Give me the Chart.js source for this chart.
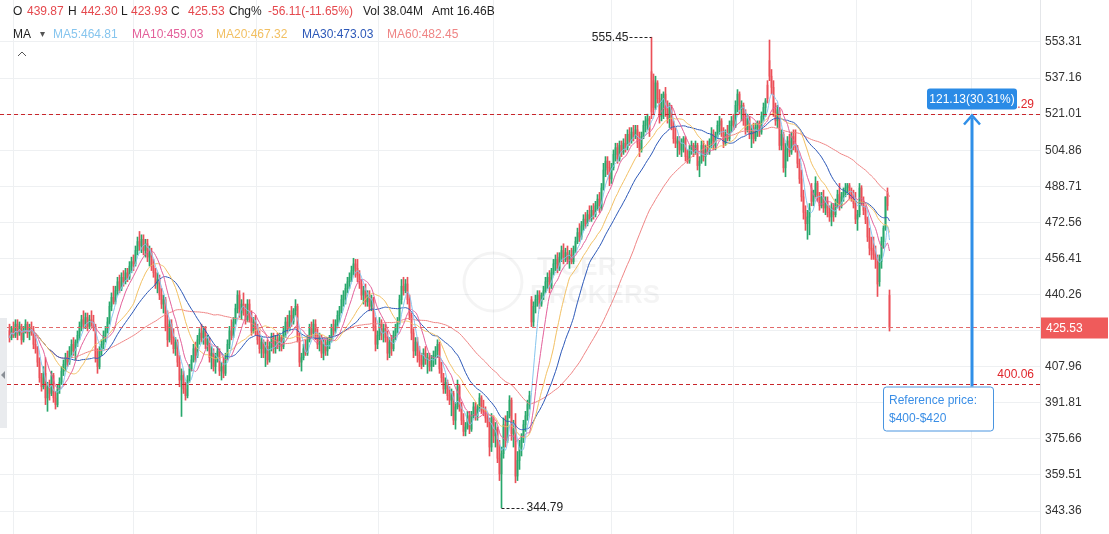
<!DOCTYPE html>
<html>
<head>
<meta charset="utf-8">
<title>Price chart</title>
<script src="https://cdn.jsdelivr.net/npm/chart.js@4.4.0/dist/chart.umd.min.js"></script>
<style>
  html, body { margin: 0; padding: 0; background: #fff; overflow: hidden; }
  #wrap { position: relative; width: 1109px; height: 534px; font-family: 'Liberation Sans', Arial, sans-serif; }
  #chart { position: absolute; left: 0; top: 0; }
  .t { position: absolute; font-size: 12px; line-height: 14px; white-space: nowrap; color: #1f1f1f; }
  .r1 { top: 4px; }
  .r2 { top: 27px; }
  .dn { color: #e5484d; }
</style>
</head>
<body>
<div id="wrap">
  <canvas id="chart" width="1109" height="534"></canvas>

  <span class="t r1" style="left:13px">O</span>
  <span class="t r1 dn" style="left:27px">439.87</span>
  <span class="t r1" style="left:68px">H</span>
  <span class="t r1 dn" style="left:81px">442.30</span>
  <span class="t r1" style="left:121px">L</span>
  <span class="t r1 dn" style="left:131px">423.93</span>
  <span class="t r1" style="left:171px">C</span>
  <span class="t r1 dn" style="left:188px">425.53</span>
  <span class="t r1" style="left:229px">Chg%</span>
  <span class="t r1 dn" style="left:268px">-56.11(-11.65%)</span>
  <span class="t r1" style="left:363px">Vol 38.04M</span>
  <span class="t r1" style="left:432px">Amt 16.46B</span>

  <span class="t r2" style="left:13px">MA</span>
  <span class="t r2" style="left:40px;font-size:10px;color:#555">&#9662;</span>
  <span class="t r2" style="left:53px;color:#86c5ee">MA5:464.81</span>
  <span class="t r2" style="left:132px;color:#e3609a">MA10:459.03</span>
  <span class="t r2" style="left:216px;color:#f2c063">MA20:467.32</span>
  <span class="t r2" style="left:302px;color:#2c58b8">MA30:473.03</span>
  <span class="t r2" style="left:387px;color:#ef8585">MA60:482.45</span>
</div>

<script>
// price axis labels
const yTicks = [553.31, 537.16, 521.01, 504.86, 488.71, 472.56, 456.41, 440.26, 424.11, 407.96, 391.81, 375.66, 359.51, 343.36];

// candle values, oldest first
const opens = [
  424,421,425,422,427,423,426,420,424,427, 423,425,424,418,416,410,403,399,405,394,
  399,396,404,394,391,398,401,406,409,412, 410,415,418,415,419,422,426,429,427,430,
  426,429,428,426,412,408,415,418,422,424, 428,435,439,437,442,446,443,448,446,450,
  448,453,455,454,460,464,462,465,460,463, 457,459,453,450,445,447,440,436,438,426,
  420,427,421,416,419,410,402,404,398,395, 402,407,411,416,413,420,423,421,424,418,
  420,412,414,408,412,415,406,408,405,412, 418,424,422,428,434,440,432,436,433,429,
  436,430,424,428,425,420,416,419,414,417, 411,417,421,416,420,418,421,417,424,428,
  425,431,428,433,435,421,410,412,416,414, 420,425,423,427,422,418,421,414,418,415,
  419,420,425,424,427,431,433,438,440,443, 446,448,451,454,452,449,445,440,442,437,
  440,435,438,426,418,422,427,423,425,421, 414,419,416,422,425,428,438,444,442,445,
  438,431,423,415,419,413,411,409,414,411, 412,408,411,413,415,418,407,403,398,401,
  395,393,396,384,390,399,390,384,379,381, 386,380,386,390,386,389,394,389,388,385,
  383,372,385,377,380,367,360,369,382,375, 386,393,378,380,359,366,372,376,382,386,
  391,438,428,435,438,440,436,440,442,446, 448,444,450,454,456,452,457,460,456,459,
  456,458,455,460,464,468,466,471,474,472, 476,474,478,476,480,483,479,488,496,500,
  497,492,497,503,506,501,507,504,508,506, 512,509,513,511,514,508,505,511,516,518,
  519,540,536,524,535,528,520,527,530,523, 519,524,516,510,508,509,505,508,510,502,
  500,505,507,504,507,498,500,507,502,505, 504,509,512,507,511,516,518,513,508,512,
  510,516,518,516,525,530,523,525,518,514, 519,512,514,510,515,517,513,520,524,534,
  545,538,533,522,518,523,507,512,497,505, 509,504,511,507,506,499,492,484,477,472,
  475,488,482,485,490,484,480,484,479,482, 477,475,479,476,481,485,480,484,486,488,
  489,485,484,481,474,476,488,482,478,474, 466,461,460,458,456,446,455,464,470,486,
  439.87
];
const highs = [
  427,426,428,429,429,428,427,426,429,428, 427,428,426,422,417,412,405,408,412,401,
  402,406,405,397,400,403,408,411,414,415, 417,420,421,420,424,428,431,433,432,432,
  431,433,431,427,416,417,420,424,426,430, 437,441,444,444,448,449,450,451,452,452,
  455,457,458,462,466,468.5,467,467,465,465, 462,461,456,452,450,449,443,440,439,433,
  429,429,425,421,420,413,407,406,401,404, 409,413,418,419,422,425,427,426,426,422,
  421,417,416,414,417,416,410,412,414,420, 426,429,430,436,442,442,438,441,436,438,
  438,433,430,431,427,424,421,420,419,420, 419,423,423,422,423,423,422,426,430,431,
  433,435,434,438,436,423,414,418,420,422, 427,428,429,429,425,423,422,420,420,421,
  422,427,429,429,433,435,440,442,445,448, 450,453,456.5,456,456,451,447,444,445,442,
  442,440,439,430,424,430,429,427,427,424, 421,422,424,427,430,440,447,448,447,448,
  440,432,425,421,421,417,414,416,417,414, 414,413,415,417,420,419,410,405,403,402,
  399,398,397,392,402,400,392,387,383,388, 388,388,392,392,391,396,395,393,390,387,
  385,387,386,383,381,375,372,385,386,388, 395,394,384,387,370,375,378,384,388,393,
  397,439.4,437,440,442,442,441,444,448,450, 451,452,456,458,459,459,462,463,461,462,
  460,461,462,466,470,472,473,476,477,478, 480,480,481,482,485,486,490,499,502,502,
  500,499,505,508,508,509,509,510,512,514, 515,515,516,516,516,513,513,518,520,521,
  520,555.45,539,538,536,532,530,531,533,527, 526,525,518,515,511,511,510,511,511,505,
  507,509,508,509,508,502,509,509,507,509, 510,515,514,513,518,520,519,515,514,516,
  518,520,521,527,532,531,527,526,523,521, 520,516,517,517,518,518,522,526,528,536,
  554.2,541,536,526,525,524,514,513,508,511, 512,513,514,514,507,501,496,487,480,478,
  481,490,487,493,491,486,486,487,484,484, 480,481,481,483,487,490,486,488,490,490,
  490,488,487,486,478,490,489,484,480,475, 470,466,466,462,458,458,466,471,484,488,
  442.30
];
const lows = [
  419,420,421,421,420,422,418,419,423,421, 420,422,416,414,408,401,397,398,391,388,
  393,395,392,389,390,396,400,404,406,408, 409,412,413,411,417,420,424,425,425,424,
  425,426,424,410,405,407,413,416,419,423, 427,433,436,436,440,441,442,444,445,446,
  447,450,451,453,458,460,459,458,457,455, 453,451,448,443,441,438,434,432,424,417,
  419,418,414,413,408,399,385.7,396,393,394, 401,406,410,410,412,418,419,418,416,415,
  410,407,406,405,410,404,402,403,404,411, 416,420,421,427,432,430,429,431,427,428,
  428,422,423,422,418,414,412,412,408,409, 410,415,414,414,416,415,415,416,421,423,
  424,426,427,431,419,408,406,411,413,413, 419,421,421,420,416,415,412,411,413,413,
  416,419,422,423,426,428,432,435,436,441, 443,446,449,448,446,443,438,436,435,435,
  433,433,424,415,416,420,420,419,419,411, 412,413,415,420,423,427,436,440,441,436,
  429,420,412,413,410,408,407,408,409,405, 406,406,408,409,412,405,401,396,396,393,
  391,386,382,380,389,388,382,377,377,380, 378,379,385,384,384,388,387,386,383,381,
  368,370,374,372,365,357,344.79,367,372,374, 385,375,372,356,357,362,368,374,379,384,
  389,425.9,426,432,435,434,435,438,441,443, 441,443,449,451,450,451,455,454,455,454,
  452,454,454,459,463,464,465,469,470,471, 473,473,474,475,478,477,478,487,493,494,
  489,490,496,500,499,500,502,503,504,505, 507,508,509,510,506,502,504,510,513,514,
  511,519,521,523,526,517,518,519,520,517, 515,514,508,506,502,503,502,504,500,499,
  499,503,502,503,496,493,499,500,498,503, 503,506,505,505,510,512,511,506,507,509,
  509,513,514,515,522,521,518,516,512,513, 510,506,508,509,511,511,512,518,520,526,
  536,530,520,516,515,505,505,495,493,500, 502,503,505,504,497,490,482,474,469,465,
  467,480,480,484,482,478,479,477,476,475, 473,471,473,475,479,478,479,482,484,485,
  483,482,479,472,469,475,480,476,472,464, 458,456,456,452,439.4,444,452,461,469,478,
  423.93
];
const closes = [
  421,425,422,427,423,426,420,424,427,423, 425,424,418,416,410,403,399,405,394,399,
  396,404,394,391,398,401,406,409,412,410, 415,418,415,419,422,426,429,427,430,426,
  429,428,426,412,408,415,418,422,424,428, 435,439,437,442,446,443,448,446,450,448,
  453,455,454,460,464,462,465,460,463,457, 459,453,450,445,447,440,436,438,426,420,
  427,421,416,419,410,402,404,398,395,402, 407,411,416,413,420,423,421,424,418,420,
  412,414,408,412,415,406,408,405,412,418, 424,422,428,434,440,432,436,433,429,436,
  430,424,428,425,420,416,419,414,417,411, 417,421,416,420,418,421,417,424,428,425,
  431,428,433,435,421,410,412,416,414,420, 425,423,427,422,418,421,414,418,415,419,
  420,425,424,427,431,433,438,440,443,446, 448,451,454,452,449,445,440,442,437,440,
  435,438,426,418,422,427,423,425,421,414, 419,416,422,425,428,438,444,442,445,438,
  431,423,415,419,413,411,409,414,411,412, 408,411,413,415,418,407,403,398,401,395,
  393,396,384,390,399,390,384,379,381,386, 380,386,390,386,389,394,389,388,385,383,
  372,385,377,380,367,360,369,382,375,386, 393,378,380,359,366,372,376,382,386,391,
  395,428,435,438,440,436,440,442,446,448, 444,450,454,456,452,457,460,456,459,456,
  458,455,460,464,468,466,471,474,472,476, 474,478,476,480,483,479,488,496,500,497,
  492,497,503,506,501,507,504,508,506,512, 509,513,511,514,508,505,511,516,518,519,
  514,522,524,535,528,520,527,530,523,519, 524,516,510,508,509,505,508,510,502,500,
  505,507,504,507,498,500,507,502,505,504, 509,512,507,511,516,518,513,508,512,510,
  516,518,516,525,530,523,525,518,514,519, 512,514,510,515,517,513,520,524,527,528,
  538,533,522,518,523,507,512,497,505,509, 504,511,507,506,499,492,484,477,472,475,
  479,482,485,490,484,480,484,479,482,477, 475,479,476,481,485,480,484,486,488,489,
  485,484,481,474,476,488,482,478,474,466, 461,460,458,456,445,455,464,470,484,480,
  425.53
];

// moving average periods and their colours
const maPeriods = [5, 10, 20, 30, 60];
const maColors = ['#86c5ee', '#e3609a', '#f2c063', '#2c58b8', '#ef8585'];

// marked levels
const refHigh = 521.29;
const refLow = 400.06;
const lastPrice = 425.53;

// vertical grid (period boundaries), in candle index units
const gridIdx = [1.75, 61.75, 123.25, 184.25, 241.75, 300.75, 361.75, 423.25, 480.75];
const arrowIdx = 481.25;

const UP = '#27a86c';
const DOWN = '#eb5058';
const FONT = "'Liberation Sans', Arial, sans-serif";

function movingAverage(values, period) {
  return values.map((_, i) => {
    const start = Math.max(0, i - period + 1);
    let sum = 0;
    for (let j = start; j <= i; j++) sum += values[j];
    return sum / (i - start + 1);
  });
}

const candleColors = closes.map((c, i) => (c >= opens[i] ? UP : DOWN));

const maSets = maPeriods.map((p, k) => ({
  type: 'line',
  label: 'MA' + p,
  data: movingAverage(closes, p).map((v, i) => ({ x: i, y: v })),
  borderColor: maColors[k],
  borderWidth: 1,
  pointRadius: 0,
  tension: 0.35,
  order: 1
}));

function roundRect(ctx, x, y, w, h, r) {
  ctx.beginPath();
  ctx.moveTo(x + r, y);
  ctx.lineTo(x + w - r, y);
  ctx.quadraticCurveTo(x + w, y, x + w, y + r);
  ctx.lineTo(x + w, y + h - r);
  ctx.quadraticCurveTo(x + w, y + h, x + w - r, y + h);
  ctx.lineTo(x + r, y + h);
  ctx.quadraticCurveTo(x, y + h, x, y + h - r);
  ctx.lineTo(x, y + r);
  ctx.quadraticCurveTo(x, y, x + r, y);
  ctx.closePath();
}

const overlay = {
  id: 'overlay',
  beforeDatasetsDraw(chart) {
    // faint watermark
    const ctx = chart.ctx;
    ctx.save();
    ctx.strokeStyle = 'rgba(0,0,0,0.045)';
    ctx.fillStyle = 'rgba(0,0,0,0.045)';
    ctx.lineWidth = 3;
    ctx.beginPath();
    ctx.arc(493, 282, 29, 0, Math.PI * 2);
    ctx.stroke();
    ctx.font = 'bold 26px ' + FONT;
    ctx.textBaseline = 'middle';
    ctx.fillText('TIGER', 537, 268);
    ctx.fillText('BROKERS', 530, 296);
    ctx.restore();
  },
  afterDatasetsDraw(chart) {
    const { ctx, chartArea: a, scales: { x, y } } = chart;
    ctx.save();
    ctx.font = '12px ' + FONT;

    const hline = (v, color, w) => {
      const py = Math.round(y.getPixelForValue(v)) + 0.5;
      ctx.beginPath();
      ctx.setLineDash([4, 3]);
      ctx.strokeStyle = color;
      ctx.lineWidth = w;
      ctx.moveTo(a.left, py);
      ctx.lineTo(a.right, py);
      ctx.stroke();
      ctx.setLineDash([]);
      return py;
    };
    const pyLast = hline(lastPrice, '#e26a6a', 1);
    const pyLow = hline(refLow, '#c8262b', 1.2);
    const pyHigh = hline(refHigh, '#c8262b', 1.2);

    ctx.fillStyle = '#e0262b';
    ctx.textAlign = 'right';
    ctx.textBaseline = 'middle';
    ctx.fillText(refLow.toFixed(2), 1034, pyLow - 10);
    ctx.fillText(refHigh.toFixed(2), 1034, pyHigh - 10);

    // period high / low markers
    const hiVal = Math.max(...highs);
    const loVal = Math.min(...lows);
    const hiX = x.getPixelForValue(highs.indexOf(hiVal));
    const loX = x.getPixelForValue(lows.indexOf(loVal));
    const hiY = y.getPixelForValue(hiVal);
    const loY = y.getPixelForValue(loVal);
    ctx.strokeStyle = '#222';
    ctx.lineWidth = 1;
    ctx.setLineDash([3, 2]);
    ctx.beginPath();
    ctx.moveTo(hiX - 22, Math.round(hiY) + 0.5);
    ctx.lineTo(hiX, Math.round(hiY) + 0.5);
    ctx.moveTo(loX, Math.round(loY) + 0.5);
    ctx.lineTo(loX + 22, Math.round(loY) + 0.5);
    ctx.stroke();
    ctx.setLineDash([]);
    ctx.fillStyle = '#222';
    ctx.textAlign = 'right';
    ctx.fillText(hiVal.toFixed(2), hiX - 23, hiY);
    ctx.textAlign = 'left';
    ctx.fillText(loVal.toFixed(2), loX + 25, loY);

    // range arrow
    const ax = Math.round(x.getPixelForValue(arrowIdx));
    ctx.strokeStyle = '#2f8fe8';
    ctx.lineWidth = 3;
    ctx.beginPath();
    ctx.moveTo(ax, pyLow + 2);
    ctx.lineTo(ax, pyHigh + 3);
    ctx.stroke();
    ctx.lineWidth = 2.5;
    ctx.beginPath();
    ctx.moveTo(ax - 8, pyHigh + 10);
    ctx.lineTo(ax, pyHigh + 1);
    ctx.lineTo(ax + 8, pyHigh + 10);
    ctx.stroke();

    // change badge
    ctx.fillStyle = '#2b8be6';
    roundRect(ctx, ax - 45, pyHigh - 26, 90, 21, 3);
    ctx.fill();
    ctx.fillStyle = '#fff';
    ctx.textAlign = 'center';
    ctx.fillText('121.13(30.31%)', ax, pyHigh - 15);

    // reference note
    roundRect(ctx, 883.5, pyLow + 2.5, 110, 44, 3);
    ctx.fillStyle = '#fff';
    ctx.fill();
    ctx.strokeStyle = '#4a95e0';
    ctx.lineWidth = 1;
    ctx.stroke();
    ctx.fillStyle = '#3a8ee6';
    ctx.textAlign = 'left';
    ctx.fillText('Reference price:', 889, pyLow + 16);
    ctx.fillText('$400-$420', 889, pyLow + 34);

    // last price tag on the axis
    ctx.fillStyle = '#ef5b5b';
    ctx.fillRect(a.right + 1, pyLast - 10, 67, 21);
    ctx.fillStyle = '#fff';
    ctx.fillText(lastPrice.toFixed(2), a.right + 6, pyLast + 1);

    // left collapse tab and top chevron
    ctx.fillStyle = '#e9ebee';
    ctx.fillRect(0, 318, 7, 110);
    ctx.fillStyle = '#8a8f96';
    ctx.beginPath();
    ctx.moveTo(1, 375);
    ctx.lineTo(5, 371);
    ctx.lineTo(5, 379);
    ctx.closePath();
    ctx.fill();
    ctx.strokeStyle = '#555';
    ctx.lineWidth = 1;
    ctx.beginPath();
    ctx.moveTo(18, 56);
    ctx.lineTo(22, 52);
    ctx.lineTo(26, 56);
    ctx.stroke();
    ctx.restore();
  }
};

const idx = closes.map((_, i) => i);

new Chart(document.getElementById('chart'), {
  type: 'bar',
  data: {
    datasets: [
      {
        type: 'bar',
        label: 'wick',
        data: idx.map(i => ({ x: i, y: [lows[i], highs[i]] })),
        backgroundColor: candleColors,
        barThickness: 1,
        grouped: false,
        order: 3
      },
      {
        type: 'bar',
        label: 'body',
        data: idx.map(i => ({ x: i, y: [opens[i], closes[i]] })),
        backgroundColor: candleColors,
        barThickness: 1,
        minBarLength: 1,
        grouped: false,
        order: 2
      },
      ...maSets
    ]
  },
  options: {
    responsive: false,
    animation: false,
    events: [],
    layout: { padding: 0 },
    plugins: { legend: { display: false }, tooltip: { enabled: false } },
    scales: {
      x: {
        type: 'linear',
        min: -4.75,
        max: 515.25,
        offset: false,
        grid: { color: '#eef0f2', drawTicks: false, offset: false },
        border: { display: false },
        ticks: { display: false },
        afterBuildTicks: s => { s.ticks = gridIdx.map(v => ({ value: v })); },
        afterFit: s => { s.height = 0; s.paddingLeft = 0; s.paddingRight = 0; }
      },
      y: {
        type: 'linear',
        position: 'right',
        min: 333.08,
        max: 572.11,
        grid: { color: '#eef0f2', drawTicks: false },
        border: { display: true, color: '#e4e6e9' },
        ticks: {
          color: '#333',
          padding: 5,
          autoSkip: false,
          font: { family: FONT, size: 12 },
          callback: v => Number(v).toFixed(2)
        },
        afterBuildTicks: s => { s.ticks = yTicks.map(v => ({ value: v })); },
        afterFit: s => { s.width = 69; s.paddingTop = 0; s.paddingBottom = 0; }
      }
    }
  },
  plugins: [overlay]
});
</script>
</body>
</html>
